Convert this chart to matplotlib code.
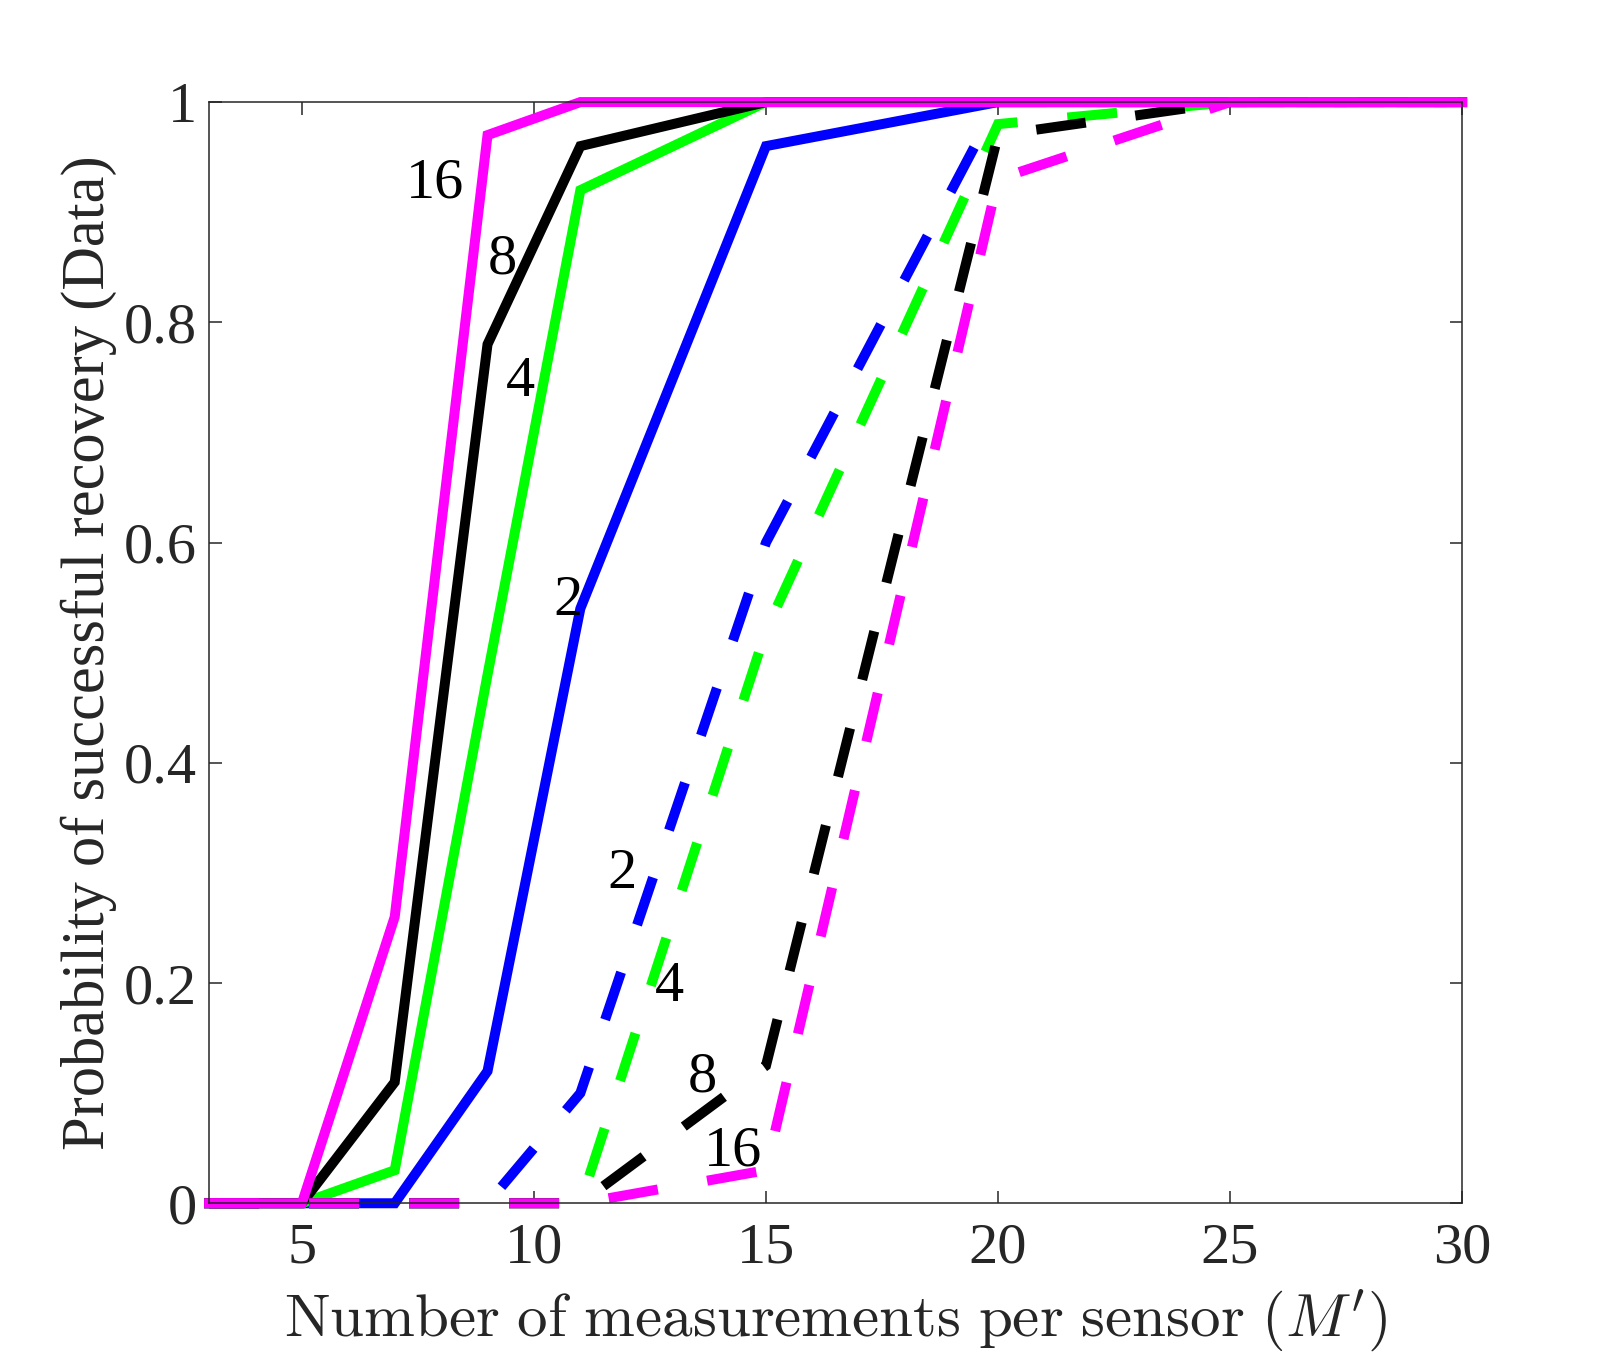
import matplotlib
matplotlib.use("Agg")
import matplotlib.pyplot as plt

plt.rcParams["font.family"] = ["Liberation Serif", "DejaVu Serif"]
plt.rcParams["mathtext.fontset"] = "stix"

# number of measurements per sensor
M = [3, 5, 7, 9, 11, 15, 20, 25, 30]

# solid curves (one per K)
solid_2 = [0, 0, 0, 0.12, 0.54, 0.96, 1, 1, 1]
solid_4 = [0, 0, 0.03, 0.48, 0.92, 1, 1, 1, 1]
solid_8 = [0, 0, 0.11, 0.78, 0.96, 1, 1, 1, 1]
solid_16 = [0, 0, 0.26, 0.97, 1, 1, 1, 1, 1]

# dashed curves
dashed_2 = [0, 0, 0, 0, 0.10, 0.60, 1, 1, 1]
dashed_4 = [0, 0, 0, 0, 0, 0.52, 0.98, 1, 1]
dashed_8 = [0, 0, 0, 0, 0, 0.125, 0.97, 1, 1]
dashed_16 = [0, 0, 0, 0, 0, 0.03, 0.93, 1, 1]

K_labels = ["2", "4", "8", "16"]
colors = ["#0000ff", "#00ff00", "#000000", "#ff00ff"]

# label anchor points (data coords)
solid_lab_x = [10.73, 9.71, 9.31, 7.87]
solid_lab_y = [0.547, 0.746, 0.857, 0.926]
dashed_lab_x = [11.89, 12.91, 13.62, 14.29]
dashed_lab_y = [0.299, 0.196, 0.114, 0.047]

FS = 42
LW = 7.2

fig = plt.figure(figsize=(16.17, 13.61), dpi=100)
ax = fig.add_axes([0.1293, 0.1159, 0.7749, 0.8091])

solids = [solid_2, solid_4, solid_8, solid_16]
dashes = [dashed_2, dashed_4, dashed_8, dashed_16]
for s, d, c in zip(solids, dashes, colors):
    ax.plot(M, s, color=c, lw=LW, solid_joinstyle="miter", clip_on=False)
    ax.plot(M, d, color=c, lw=LW, dashes=(5, 5), dash_capstyle="butt",
            dash_joinstyle="miter", clip_on=False)

for lab, x, y in zip(K_labels, solid_lab_x, solid_lab_y):
    ax.text(x, y, lab, fontsize=FS, ha="center", va="center")
for lab, x, y in zip(K_labels, dashed_lab_x, dashed_lab_y):
    ax.text(x, y, lab, fontsize=FS, ha="center", va="center")

ax.set_xlim(3, 30)
ax.set_ylim(0, 1)
ax.set_xticks([5, 10, 15, 20, 25, 30])
ax.set_yticks([0, 0.2, 0.4, 0.6, 0.8, 1])
ax.set_yticklabels(["0", "0.2", "0.4", "0.6", "0.8", "1"])
ax.tick_params(direction="in", top=True, right=True, length=9, width=1.1,
               colors="#262626", labelsize=FS, labelcolor="#262626")
ax.tick_params(axis="x", pad=14)
ax.tick_params(axis="y", pad=9)
for sp in ax.spines.values():
    sp.set_color("#262626")
    sp.set_linewidth(1.1)

# x label is LaTeX-rendered in the original, so use Computer Modern
ax.set_xlabel(r"$\mathrm{Number\ of\ measurements\ per\ sensor}\ (M')$",
              fontsize=43.9, color="#262626", labelpad=9, math_fontfamily="cm")
ax.set_ylabel("Probability of successful recovery (Data)", fontsize=43.6,
              color="#262626", labelpad=4.5)

fig.savefig("out.png", dpi=100)
